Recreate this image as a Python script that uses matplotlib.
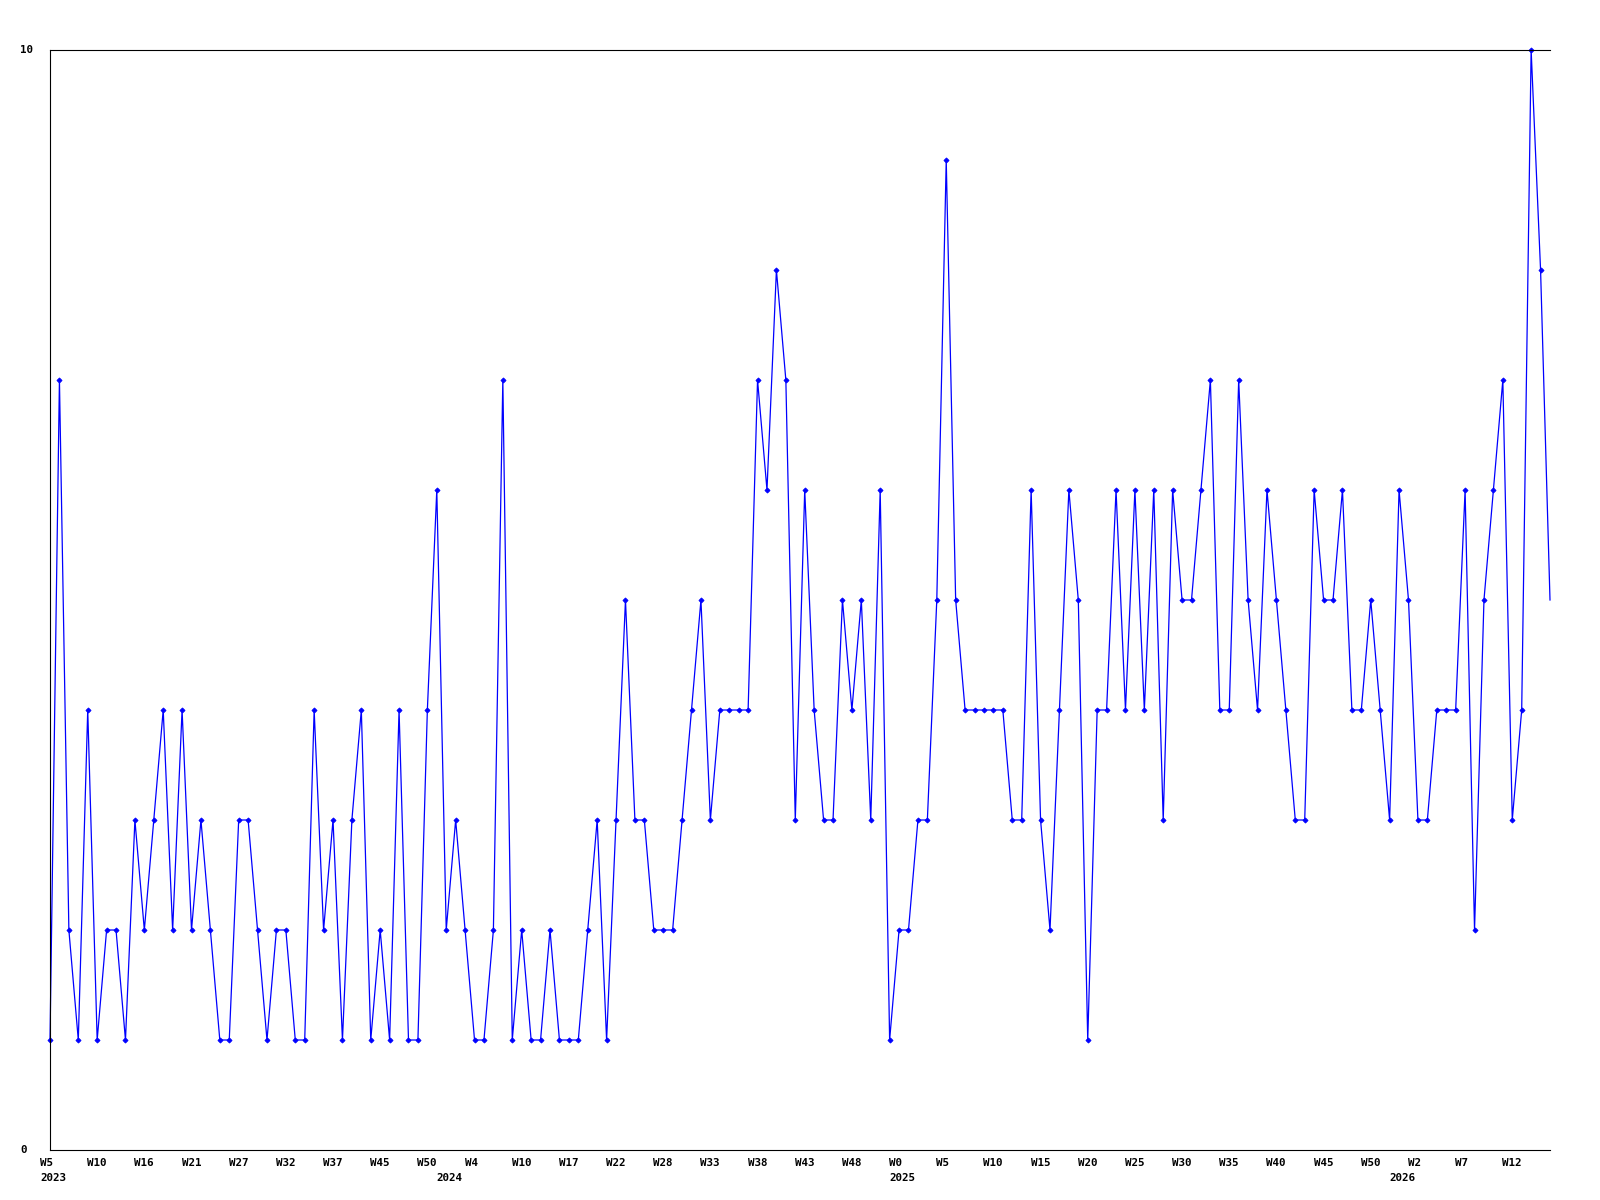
import matplotlib
matplotlib.use("Agg")
import matplotlib.pyplot as plt
from matplotlib.transforms import offset_copy, blended_transform_factory

# --- DATA ---
counts = [
    1, 7, 2, 1, 4, 1, 2, 2, 1, 3, 2, 3, 4, 2, 4, 2, 3, 2, 1, 1, 3, 3, 2, 1, 2, 2, 1, 1, 4,
    2, 3, 1, 3, 4, 1, 2, 1, 4, 1, 1, 4, 6, 2, 3, 2, 1, 1, 2, 7, 1, 2, 1, 1, 2, 1, 1, 1, 2,
    3, 1, 3, 5, 3, 3, 2, 2, 2, 3, 4, 5, 3, 4, 4, 4, 4, 7, 6, 8, 7, 3, 6, 4, 3, 3, 5, 4,
    5, 3, 6, 1, 2, 2, 3, 3, 5, 9, 5, 4, 4, 4, 4, 4, 3, 3, 6, 3, 2, 4, 6, 5, 1, 4, 4, 6, 4,
    6, 4, 6, 3, 6, 5, 5, 6, 7, 4, 4, 7, 5, 4, 6, 5, 4, 3, 3, 6, 5, 5, 6, 4, 4, 5, 4, 3, 6,
    5, 3, 3, 4, 4, 4, 6, 2, 5, 6, 7, 3, 4, 10, 8, 5,
]
week_labels = [
    "W5", "W10", "W16", "W21", "W27", "W32", "W37", "W45", "W50",
    "W4", "W10", "W17", "W22", "W28", "W33", "W38", "W43", "W48",
    "W0", "W5", "W10", "W15", "W20", "W25", "W30", "W35", "W40", "W45", "W50",
    "W2", "W7", "W12",
]
year_labels = ["2023", "2024", "2025", "2026"]
year_index = [0, 42, 90, 143]
y_labels = ["0", "10"]

FONT = dict(family="DejaVu Sans Mono", fontweight="bold", fontsize=7.8, color="black")

fig = plt.figure(figsize=(16, 12), dpi=100)
fig.patch.set_facecolor("white")
ax = fig.add_axes([50 / 1600, 50 / 1200, 1500 / 1600, 1100 / 1200])

x = list(range(len(counts)))
ax.plot(x, counts, color="#0000ff", lw=0.9, marker="D", markersize=2.6,
        markeredgewidth=0.6, markevery=slice(0, len(counts) - 1), clip_on=False)

ax.set_xlim(0, len(counts) - 1)
ax.set_ylim(0, 10)
ax.set_xticks([])
ax.set_yticks([])
ax.spines["right"].set_visible(False)
for side in ("left", "top", "bottom"):
    ax.spines[side].set_linewidth(0.8)
    ax.spines[side].set_color("black")

# week labels every 5th point, year under the first point of each year
xaxis_tr = ax.get_xaxis_transform()
week_tr = offset_copy(xaxis_tr, fig=fig, x=-10, y=-8, units="dots")
year_tr = offset_copy(xaxis_tr, fig=fig, x=-10, y=-23, units="dots")
for i, lab in enumerate(week_labels):
    ax.text(i * 5, 0, lab, transform=week_tr, ha="left", va="top", **FONT)
for idx, lab in zip(year_index, year_labels):
    ax.text(idx, 0, lab, transform=year_tr, ha="left", va="top", **FONT)

# y labels at the left edge
ytr = blended_transform_factory(fig.transFigure, ax.transData)
for lab in y_labels:
    ax.text(20 / 1600, float(lab), lab, transform=ytr, ha="left", va="center", **FONT)

fig.savefig("out.png", dpi=100, facecolor="white")
